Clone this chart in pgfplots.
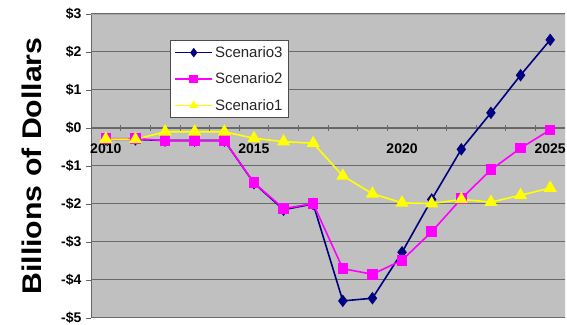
\documentclass[border=0pt]{standalone}
\usepackage{pgfplots}
\pgfplotsset{compat=1.18}
\usepackage{fontspec}
\setmainfont{Liberation Sans}
\definecolor{bg}{HTML}{C0C0C0}
\definecolor{gridc}{HTML}{6A6A6A}
\definecolor{sthree}{HTML}{000080}
\definecolor{stwo}{HTML}{FF00FF}
\definecolor{sone}{HTML}{FFFF00}
\begin{document}
\begin{tikzpicture}
\begin{axis}[
  scale only axis, width=474pt, height=304pt,
  xmin=2009.5, xmax=2025.5, ymin=-5, ymax=3,
  axis x line=middle, axis y line=left,
  axis line style={-, draw=gray!80!black, line width=0.8pt},
  hide obscured x ticks=false, hide obscured y ticks=false,
  axis background/.style={fill=bg},
  ytick={-5,-4,-3,-2,-1,0,1,2,3},
  yticklabels={-\$5,-\$4,-\$3,-\$2,-\$1,\$0,\$1,\$2,\$3},
  ymajorgrids, grid style={gridc, line width=1pt},
  xtick={2010,2015,2020,2025}, xticklabels={2010,2015,2020,2025},
  minor xtick={2010.5,2011.5,2012.5,2013.5,2014.5,2015.5,2016.5,2017.5,2018.5,2019.5,2020.5,2021.5,2022.5,2023.5,2024.5},
  major x tick style={draw=none},
  minor x tick style={draw=gridc, line width=0.6pt},
  xtick align=center, ytick align=outside,
  major tick length=5pt, minor tick length=6pt,
  y tick style={draw=gray!80!black, line width=0.8pt},
  tick label style={font=\bfseries\fontsize{14}{16}\selectfont},
  xticklabel style={yshift=-10pt},
  yticklabel style={xshift=-1pt},
  every axis y label/.style={at={(rel axis cs:0,0.5)}, shift={(-59pt,0pt)}, rotate=90, anchor=center},
  ylabel={\scalebox{1.12}[1]{\bfseries\fontsize{27}{30}\selectfont Billions of Dollars}},
  legend style={at={(rel axis cs:0.167,0.914)}, anchor=north west, fill=white, draw=black!70, line width=0.6pt,
    font=\fontsize{15}{17}\selectfont, text=black!85, row sep=10pt, inner sep=4pt},
  legend cell align=left,
  legend image code/.code={\draw[mark repeat=2, mark phase=2, mark size=3.5pt] plot coordinates {(0cm,0cm)(0.65cm,0cm)(1.3cm,0cm)};},
]
\addplot[sthree, line width=1.6pt, mark=diamond*, mark size=5pt, mark options={solid, fill=sthree}] coordinates {
(2010,-0.30)(2011,-0.30)(2012,-0.33)(2013,-0.33)(2014,-0.33)(2015,-1.45)(2016,-2.15)(2017,-2.00)
(2018,-4.55)(2019,-4.48)(2020,-3.27)(2021,-1.88)(2022,-0.56)(2023,0.40)(2024,1.39)(2025,2.32)};
\addlegendentry{Scenario3}
\addplot[stwo, line width=1.6pt, mark=square*, mark size=4.5pt, mark options={solid, fill=stwo}] coordinates {
(2010,-0.28)(2011,-0.28)(2012,-0.33)(2013,-0.33)(2014,-0.33)(2015,-1.44)(2016,-2.12)(2017,-1.99)
(2018,-3.70)(2019,-3.85)(2020,-3.48)(2021,-2.73)(2022,-1.86)(2023,-1.10)(2024,-0.53)(2025,-0.05)};
\addlegendentry{Scenario2}
\addplot[sone, line width=1.6pt, mark=triangle*, mark size=6pt, mark options={solid, fill=sone}] coordinates {
(2010,-0.29)(2011,-0.30)(2012,-0.10)(2013,-0.10)(2014,-0.10)(2015,-0.27)(2016,-0.36)(2017,-0.40)
(2018,-1.26)(2019,-1.73)(2020,-1.97)(2021,-1.99)(2022,-1.88)(2023,-1.95)(2024,-1.77)(2025,-1.58)};
\addlegendentry{Scenario1}
\draw[gray!70, line width=0.6pt] (rel axis cs:0,1) -- (rel axis cs:1,1) -- (rel axis cs:1,0) -- (rel axis cs:0,0);
\coordinate (ll) at (rel axis cs:0,0);
\coordinate (ur) at (rel axis cs:1,1);
\end{axis}
\pgfresetboundingbox
\path ([shift={(-91pt,-7pt)}]ll) rectangle ([shift={(2pt,14pt)}]ur);
\end{tikzpicture}
\end{document}
